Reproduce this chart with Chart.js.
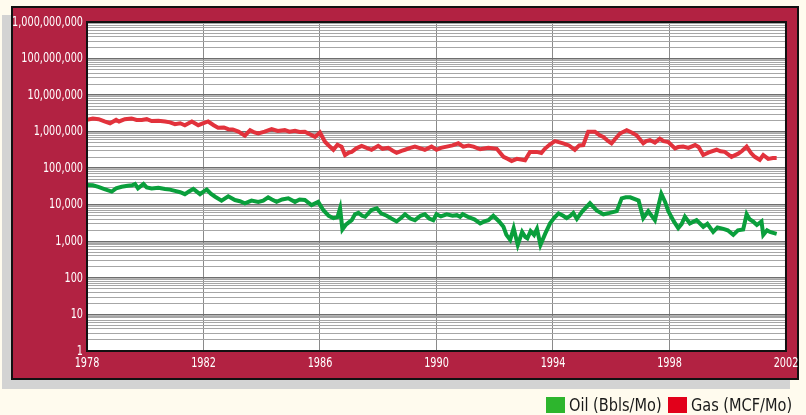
<!DOCTYPE html>
<html>
<head>
<meta charset="utf-8">
<script src="https://cdn.jsdelivr.net/npm/chart.js@4.4.1/dist/chart.umd.min.js"></script>
<style>
  body { margin: 0; background: #fffbee; width: 806px; height: 415px; overflow: hidden; position: relative;
         font-family: "Liberation Sans Narrow", "DejaVu Sans Condensed", sans-serif; }
  #shadow { position: absolute; left: 2px; top: 15px; width: 788px; height: 374px; background: #d3d3d3; }
  #panel { position: absolute; left: 11px; top: 6px; width: 788px; height: 374px; background: #b22242;
           border: 2px solid #111; box-sizing: border-box; }
  #chart { position: absolute; left: 0; top: 0; }
  .sw { position: absolute; top: 397px; width: 19px; height: 16px; }
  .lt { position: absolute; top: 395px; font-size: 17px; line-height: 20px; color: #1a1a1a;
        transform: scaleX(0.95); transform-origin: left center; white-space: nowrap; }
</style>
</head>
<body>
<div id="shadow"></div>
<div id="panel"></div>
<canvas id="chart" width="806" height="415"></canvas>
<div class="sw" style="left:546px;background:#2db52d"></div>
<div class="lt" style="left:569px">Oil (Bbls/Mo)</div>
<div class="sw" style="left:668px;background:#e2001a"></div>
<div class="lt" style="left:691px">Gas (MCF/Mo)</div>
<script>
var gasYears = [1978.0, 1978.2, 1978.4, 1978.6, 1978.79, 1979.0, 1979.1, 1979.3, 1979.53, 1979.7, 1979.88,
  1980.05, 1980.22, 1980.45, 1980.68, 1980.85, 1981.02, 1981.2, 1981.36, 1981.6, 1981.82, 1982.0, 1982.16,
  1982.35, 1982.5, 1982.7, 1982.85, 1983.0, 1983.2, 1983.42, 1983.6, 1983.75, 1983.88, 1984.1, 1984.34,
  1984.55, 1984.79, 1984.95, 1985.14, 1985.3, 1985.48, 1985.65, 1985.83, 1986.0, 1986.17, 1986.3, 1986.46,
  1986.6, 1986.74, 1986.86, 1987.0, 1987.09, 1987.25, 1987.43, 1987.6, 1987.77, 1988.0, 1988.15, 1988.34,
  1988.5, 1988.63, 1988.8, 1988.92, 1989.1, 1989.26, 1989.45, 1989.6, 1989.83, 1990.0, 1990.15, 1990.35,
  1990.55, 1990.75, 1990.92, 1991.1, 1991.27, 1991.5, 1991.78, 1992.07, 1992.3, 1992.45, 1992.58, 1992.76,
  1993.04, 1993.21, 1993.44, 1993.6, 1993.72, 1993.9, 1994.07, 1994.35, 1994.55, 1994.75, 1994.9, 1995.04,
  1995.21, 1995.44, 1995.6, 1995.73, 1995.9, 1996.01, 1996.15, 1996.3, 1996.53, 1996.7, 1996.87, 1997.1,
  1997.2, 1997.33, 1997.5, 1997.67, 1997.8, 1997.96, 1998.19, 1998.3, 1998.47, 1998.65, 1998.88, 1999.0,
  1999.16, 1999.35, 1999.62, 1999.75, 1999.9, 2000.13, 2000.36, 2000.5, 2000.65, 2000.8, 2000.93, 2001.1,
  2001.22, 2001.39, 2001.55, 2001.68];
var gasValues = [2100000, 2300000, 2200000, 1900000, 1700000, 2100000, 1900000, 2200000, 2300000, 2100000, 2100000,
  2200000, 1950000, 2000000, 1900000, 1800000, 1600000, 1700000, 1500000, 1900000, 1500000, 1700000, 1900000,
  1500000, 1280000, 1300000, 1170000, 1150000, 1000000, 780000, 1100000, 950000, 890000, 1000000, 1170000,
  1050000, 1100000, 1000000, 1050000, 980000, 1000000, 850000, 720000, 950000, 530000, 420000, 320000,
  440000, 390000, 230000, 270000, 280000, 350000, 410000, 360000, 320000, 410000, 340000, 360000,
  300000, 265000, 300000, 320000, 360000, 390000, 350000, 320000, 390000, 320000, 360000, 390000,
  420000, 480000, 390000, 420000, 390000, 330000, 360000, 340000, 205000, 180000, 158000, 180000,
  165000, 280000, 280000, 260000, 340000, 450000, 550000, 480000, 420000, 320000, 420000, 430000,
  1000000, 1000000, 800000, 720000, 550000, 480000, 650000, 890000, 1100000, 950000, 800000, 480000,
  550000, 590000, 500000, 640000, 550000, 520000, 350000, 380000, 390000, 360000, 430000, 380000,
  230000, 270000, 320000, 290000, 280000, 205000, 250000, 300000, 390000, 260000, 205000, 170000,
  230000, 180000, 190000, 190000];

var oilYears = [1978.0, 1978.2, 1978.39, 1978.6, 1978.85, 1979.0, 1979.19, 1979.4, 1979.55, 1979.65, 1979.75,
  1979.94, 1980.05, 1980.22, 1980.45, 1980.68, 1980.85, 1981.02, 1981.2, 1981.36, 1981.5, 1981.65, 1981.88,
  1982.0, 1982.11, 1982.25, 1982.4, 1982.62, 1982.85, 1983.08, 1983.25, 1983.42, 1983.65, 1983.88, 1984.05,
  1984.22, 1984.35, 1984.51, 1984.7, 1984.91, 1985.14, 1985.3, 1985.48, 1985.71, 1985.94, 1986.11, 1986.3,
  1986.46, 1986.6, 1986.69, 1986.77, 1986.9, 1987.09, 1987.2, 1987.32, 1987.45, 1987.55, 1987.77, 1987.95,
  1988.1, 1988.29, 1988.45, 1988.63, 1988.8, 1988.92, 1989.1, 1989.26, 1989.45, 1989.6, 1989.75, 1989.89,
  1990.0, 1990.15, 1990.35, 1990.55, 1990.7, 1990.81, 1990.9, 1991.1, 1991.3, 1991.5, 1991.65, 1991.78,
  1991.95, 1992.15, 1992.3, 1992.4, 1992.53, 1992.65, 1992.79, 1992.94, 1993.05, 1993.12, 1993.23, 1993.35,
  1993.45, 1993.57, 1993.73, 1993.9, 1994.05, 1994.19, 1994.35, 1994.47, 1994.6, 1994.7, 1994.82, 1995.0,
  1995.27, 1995.5, 1995.73, 1995.95, 1996.19, 1996.36, 1996.5, 1996.65, 1996.94, 1997.1, 1997.27, 1997.5,
  1997.6, 1997.72, 1997.85, 1997.96, 1998.15, 1998.3, 1998.42, 1998.53, 1998.7, 1998.93, 1999.16, 1999.3,
  1999.5, 1999.65, 1999.85, 2000.0, 2000.19, 2000.35, 2000.53, 2000.65, 2000.75, 2000.87, 2001.0, 2001.16,
  2001.22, 2001.35, 2001.45, 2001.68];
var oilValues = [35000, 34000, 31000, 27000, 23000, 28000, 31000, 33000, 34000, 37000, 28000,
  37000, 30000, 28000, 29000, 27000, 26000, 24000, 22000, 19500, 23000, 27000, 19500,
  23000, 26000, 20000, 16600, 13000, 17000, 13500, 12500, 11000, 13000, 12000, 13000,
  16000, 14000, 12000, 14000, 15000, 12000, 14000, 13500, 9800, 12000, 7200, 5000,
  4300, 4600, 8000, 2100, 2900, 3800, 5500, 6000, 5000, 4700, 7200, 8000,
  5800, 5000, 4200, 3500, 4500, 5500, 4200, 3800, 5000, 5500, 4200, 3800,
  5500, 4800, 5500, 5000, 5200, 4700, 5500, 4600, 4000, 3100, 3500, 3800,
  5000, 3500, 2500, 1500, 1100, 2300, 800, 1800, 1300, 1200, 1900, 1500,
  2200, 800, 1600, 3100, 4500, 5800, 5000, 4300, 5000, 6000, 4100, 6500,
  11000, 7000, 5500, 6000, 6700, 15000, 16000, 16000, 13000, 4300, 6700, 3800,
  8000, 20000, 12000, 6700, 3500, 2300, 3000, 4700, 3100, 3800, 2500, 3000,
  1800, 2400, 2200, 2000, 1500, 2000, 2100, 5500, 4000, 3500, 2800, 3500,
  1500, 2000, 1800, 1600];

var yearTicks = [1978, 1982, 1986, 1990, 1994, 1998, 2002];
var decadeLabels = [1, 10, 100, 1000, 10000, 100000, 1000000, 10000000, 100000000, 1000000000];

function pts(xs, ys) {
  return xs.map(function (x, i) { return { x: x, y: ys[i] }; });
}

var tickFont = { family: "'Liberation Sans Narrow', 'DejaVu Sans Condensed', sans-serif", size: 14 };

// white plot background and black frame
var plotFrame = {
  id: 'plotFrame',
  beforeDraw: function (chart) {
    var a = chart.chartArea, c = chart.ctx;
    c.save();
    c.fillStyle = '#ffffff';
    c.fillRect(a.left, a.top, a.right - a.left, a.bottom - a.top);
    c.restore();
  },
  afterDraw: function (chart) {
    var a = chart.chartArea, c = chart.ctx;
    c.save();
    c.strokeStyle = '#111';
    c.lineWidth = 2;
    c.strokeRect(a.left, a.top, a.right - a.left, a.bottom - a.top);
    c.restore();
  }
};

// squeeze tick labels horizontally around their anchor (condensed look)
var narrowLabels = {
  id: 'narrowLabels',
  beforeDraw: function (chart) {
    Object.keys(chart.scales).forEach(function (k) {
      var s = chart.scales[k];
      if (s._narrowed) return;
      s._narrowed = true;
      var orig = s.drawLabels;
      s.drawLabels = function (area) {
        var c = this.ctx, rot = c.rotate;
        c.rotate = function (a) { rot.call(c, a); c.scale(0.77, 1); };
        try { orig.call(this, area); } finally { c.rotate = rot; }
      };
    });
  }
};

var ctx = document.getElementById('chart').getContext('2d');

var myChart = new Chart(ctx, {
  type: 'line',
  data: {
    datasets: [{
        label: 'Gas (MCF/Mo)',
        borderColor: '#e2323c',
        backgroundColor: '#e2323c',
        borderWidth: 4,
        pointRadius: 0,
        data: pts(gasYears, gasValues)
      }, {
        label: 'Oil (Bbls/Mo)',
        borderColor: '#0a9f3c',
        backgroundColor: '#0a9f3c',
        borderWidth: 4,
        pointRadius: 0,
        data: pts(oilYears, oilValues)
      }
    ]
  },
  options: {
    responsive: false,
    animation: false,
    layout: { padding: { top: 22, right: 20, left: 0, bottom: 0 } },
    plugins: {
      legend: { display: false },
      tooltip: { enabled: false }
    },
    scales: {
      x: {
        type: 'linear',
        min: 1978,
        max: 2002,
        afterBuildTicks: function (s) {
          s.ticks = yearTicks.map(function (v) { return { value: v }; });
        },
        afterFit: function (s) { s.height = 64; },
        border: { display: false },
        grid: { color: '#8a8a8a', lineWidth: 1, drawTicks: false },
        ticks: {
          color: '#ffffff',
          font: tickFont,
          padding: 4,
          maxRotation: 0,
          autoSkip: false,
          callback: function (v) { return String(v); }
        }
      },
      y: {
        type: 'logarithmic',
        min: 1,
        max: 1000000000,
        afterBuildTicks: function (s) {
          var t = [];
          decadeLabels.forEach(function (d, i) {
            if (i === decadeLabels.length - 1) { t.push({ value: d, major: true }); return; }
            for (var k = 1; k < 10; k++) t.push({ value: d * k, major: k === 1 });
          });
          s.ticks = t;
        },
        afterFit: function (s) { s.width = 87; },
        border: { display: false },
        grid: {
          drawTicks: false,
          color: function (c) { return c.tick && c.tick.major ? '#6e6e6e' : '#a6a6a6'; },
          lineWidth: function (c) { return c.tick && c.tick.major ? 1.5 : 1; }
        },
        ticks: {
          color: '#ffffff',
          font: tickFont,
          padding: 4,
          autoSkip: false,
          callback: function (v) {
            return decadeLabels.indexOf(v) >= 0 ? v.toLocaleString('en-US') : '';
          }
        }
      }
    }
  },
  plugins: [plotFrame, narrowLabels]
});
</script>
</body>
</html>
